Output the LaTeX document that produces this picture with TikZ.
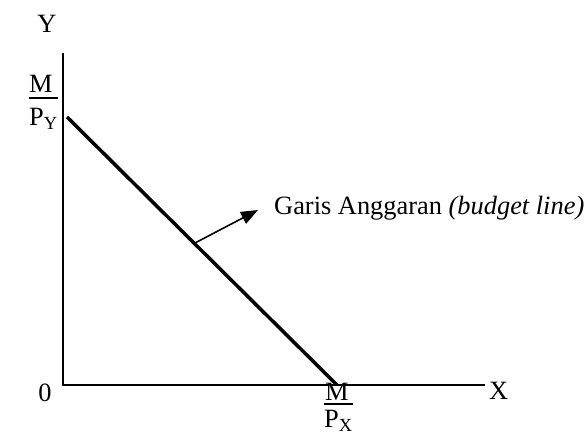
\documentclass[tikz,border=0pt]{standalone}
\usepackage{fontspec}
\setmainfont{Liberation Serif}
\usetikzlibrary{arrows.meta}
\begin{document}
\begin{tikzpicture}[x=1pt,y=-1pt,
  lbl/.style={inner sep=0pt,font=\fontsize{26.4}{31}\selectfont},
  axis/.style={line width=1.5pt},
  budget/.style={line width=3.5pt},
  pointer/.style={line width=1.6pt,-{Triangle[length=17pt,width=13pt]}},
  fracrule/.style={line width=2pt}]
\useasboundingbox (0,0) rectangle (587,435);
% axes
\coordinate (o) at (63,385);
\coordinate (ytop) at (63,53);
\coordinate (xend) at (485,385);
\draw[axis] (ytop) -- (o) -- (xend);
% budget line
\coordinate (b1) at (67,117);
\coordinate (b2) at (337,385);
\draw[budget] (b1) -- (b2);
% labels
\node[lbl,anchor=center] (ylab) at (47,24) {Y};
\node[lbl,anchor=base west] (xlab) at (489,400) {X};
\node[lbl,anchor=base] (zero) at (45,402) {0};
% M / P_Y
\node[lbl,anchor=base west] (my) at (29,93) {M};
\node[lbl,anchor=base west] (py) at (29,126) {P\textsubscript{Y}};
\draw[fracrule] (my.south west |- 0,98) -- (py.east |- 0,98);
% M / P_X
\node[lbl,anchor=base west] (mx) at (325,401) {M};
\node[lbl,anchor=base west] (px) at (324,428) {P\textsubscript{X}};
\draw[fracrule] (px.west |- 0,404) -- (px.east |- 0,404);
% pointer
\coordinate (a1) at (195,243);
\node[lbl,anchor=base west] (txt) at (274,215) {Garis Anggaran \textit{(budget line)}};
\coordinate (a2) at (258,210);
\draw[pointer] (a1) -- (a2);
\end{tikzpicture}
\end{document}
